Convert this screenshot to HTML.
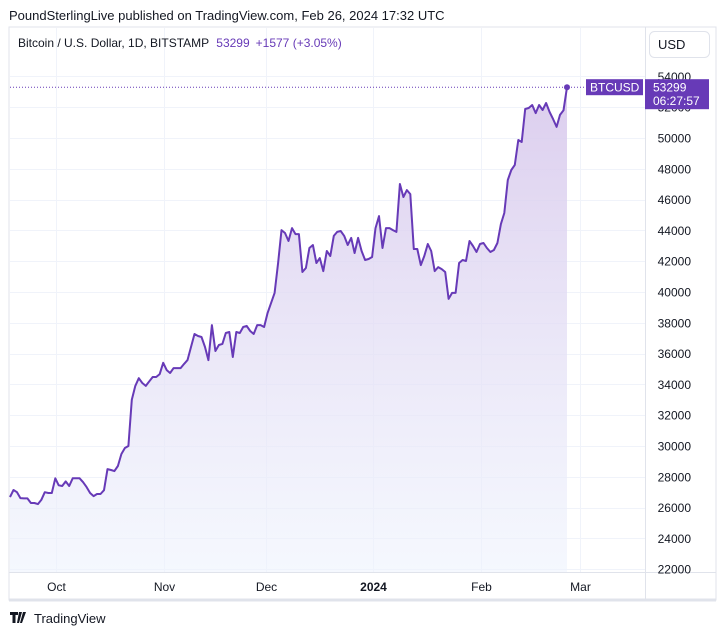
<!DOCTYPE html>
<html><head><meta charset="utf-8"><style>
body{margin:0;background:#fff;width:725px;height:635px;overflow:hidden;font-family:"Liberation Sans",sans-serif;}
svg text{font-family:"Liberation Sans",sans-serif;}
</style></head><body>
<svg width="725" height="635">
<defs><linearGradient id="fill" x1="0" y1="0" x2="0" y2="1"><stop offset="0" stop-color="#d8c8ec" stop-opacity="0.9"/><stop offset="1" stop-color="#eef3fd" stop-opacity="0.6"/></linearGradient></defs>
<text x="9" y="20" font-size="13" fill="#131722">PoundSterlingLive published on TradingView.com, Feb 26, 2024 17:32 UTC</text>
<rect x="9" y="27" width="707" height="573" fill="none" stroke="#e0e3eb" stroke-width="1"/>
<g id="grid"></g>
<g id="plot"></g>
<line x1="645.5" y1="27" x2="645.5" y2="600" stroke="#e0e3eb"/>
<line x1="9" y1="572.5" x2="716" y2="572.5" stroke="#e0e3eb"/>
<line x1="9" y1="600" x2="716" y2="600" stroke="#e0e3eb" stroke-width="3"/>
<g id="yaxis"></g>
<g id="xaxis"></g>
<text x="18" y="47" font-size="12" fill="#131722">Bitcoin / U.S. Dollar, 1D, BITSTAMP <tspan fill="#673ab7" dx="4">53299</tspan><tspan fill="#673ab7" dx="6">+1577 (+3.05%)</tspan></text>
<rect x="649.5" y="31.5" width="60" height="26" rx="5" fill="#fff" stroke="#e0e3eb"/>
<text x="658" y="49" font-size="13" fill="#131722">USD</text>
<g id="labels"></g>
<text x="34" y="623" font-size="13" fill="#131722">TradingView</text>
<path d="M10 612h8v3h-2.5v8h-3v-8H10z M19 612h3l-3 11h-2z M23 612h3l-4 11h-2z" fill="#131722"/>
</svg>
<script>
const prices=[26680,27140,27000,26620,26600,26600,26300,26300,26230,26500,27000,26950,26950,27900,27450,27400,27700,27400,27900,27900,27900,27650,27330,26950,26750,26880,26880,27130,28500,28440,28370,28700,29480,29870,30000,33000,33900,34400,34090,33900,34200,34480,34480,34670,35400,34930,34740,35060,35060,35060,35330,35580,36430,37270,37140,37080,36430,35580,37850,36170,36560,36630,37340,37400,35780,37400,37340,37730,37800,37470,37270,37850,37850,37730,38640,39290,39940,41880,44020,43830,43310,44150,43760,43760,41300,41560,42860,43050,41880,42200,41360,42660,42340,43640,43900,43960,43640,43050,43510,42530,43510,42660,42080,42140,42270,44150,44930,42860,44150,44150,44020,43900,47010,46170,46620,46360,42790,42790,41750,42340,43120,42660,41360,41620,41490,41300,39550,39940,39940,41880,42080,42010,43310,42990,42600,43120,43180,42860,42600,42730,43180,44410,45130,47270,47920,48250,49870,49740,51880,51950,52140,51620,52140,51820,52270,51690,51230,50720,51500,51800,53299];
const yTicks=[22000,24000,26000,28000,30000,32000,34000,36000,38000,40000,42000,44000,46000,48000,50000,52000,54000];
const monthLabels=["Oct","Nov","Dec","2024","Feb","Mar"];
const monthDayIdx=[13.3,44.1,73.5,104.3,135.4,163.8];
const lastPrice=53299;
const lastTime="06:27:57";
const NS="http://www.w3.org/2000/svg";
const xs=i=>10+i*(557/160);
const ys=v=>138+(50000-v)*0.0154;
function mk(t,a,p){const e=document.createElementNS(NS,t);for(const k in a)e.setAttribute(k,a[k]);p.appendChild(e);return e;}
const grid=document.getElementById('grid'),plot=document.getElementById('plot'),ya=document.getElementById('yaxis'),xa=document.getElementById('xaxis'),lb=document.getElementById('labels');
yTicks.forEach(v=>{const y=Math.round(ys(v))+0.5;
 const l=mk('line',{x1:10,x2:645,y1:y,y2:y,stroke:'#f0f3fa'},grid);
 
 
 const t=mk('text',{x:691,y:ys(v)+4.5,'font-size':12,fill:'#131722','text-anchor':'end'},ya);
 t.textContent=v;
 
 });
monthLabels.forEach((m,k)=>{const x=Math.round(xs(monthDayIdx[k]))+0.5;
 const l=mk('line',{x1:x,x2:x,y1:28,y2:572,stroke:'#f0f3fa'},grid);
 
 
 const t=mk('text',{x:x,y:591,'font-size':12,fill:'#131722','text-anchor':'middle','font-weight':m==='2024'?'bold':'normal'},xa);
 t.textContent=m;
 
 });
let d=prices.map((v,i)=>(i?'L':'M')+xs(i).toFixed(1)+' '+ys(v).toFixed(1)).join(' ');
const n=prices.length-1;
const area=mk('path',{d:d+` L${xs(n)} 572 L${xs(0)} 572 Z`,fill:'url(#fill)'},plot);


const line=mk('path',{d:d,fill:'none',stroke:'#673ab7','stroke-width':2,'stroke-linejoin':'round'},plot);


const yl=ys(lastPrice);
const dl=mk('line',{x1:10,x2:586,y1:yl,y2:yl,stroke:'#673ab7','stroke-dasharray':'1 2'},plot);


const dot=mk('circle',{cx:xs(n),cy:yl,r:3,fill:'#673ab7'},plot);


const b1=mk('rect',{x:586,y:yl-8,width:57,height:16,fill:'#673ab7'},lb);


const t1=mk('text',{x:590,y:yl+4.5,'font-size':12,fill:'#fff'},lb);t1.textContent='BTCUSD';
const b2=mk('rect',{x:645,y:yl-8,width:64,height:30,fill:'#673ab7'},lb);


const t2=mk('text',{x:653,y:yl+4.5,'font-size':12,fill:'#fff'},lb);t2.textContent=lastPrice;
const t3=mk('text',{x:653,y:yl+18,'font-size':12,fill:'#fff'},lb);t3.textContent=lastTime;
</script>
</body></html>
